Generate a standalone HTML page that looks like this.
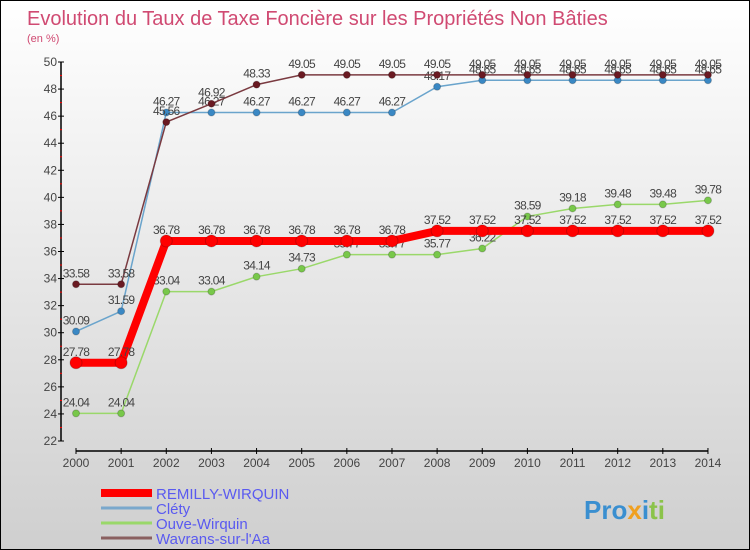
<!DOCTYPE html>
<html><head><meta charset="utf-8"><style>
body{margin:0}
#c{width:750px;height:550px;position:relative;box-sizing:border-box;border:1px solid #000;background:linear-gradient(#fff,#cfcfcf);font-family:"Liberation Sans",sans-serif;overflow:hidden}
svg text{font-family:"Liberation Sans",sans-serif}
</style></head><body>
<div id="c">
<svg id="s" width="750" height="550">
<text x="26" y="24" font-size="20" fill="#d04a72">Evolution du Taux de Taxe Foncière sur les Propriétés Non Bâties</text>
<text x="26" y="41" font-size="11" fill="#d04a72">(en %)</text>
<text x="583" y="518" font-size="26" font-weight="bold" fill="#3a8fd0">Pro<tspan fill="#f0a020">x</tspan><tspan fill="#3a8fd0">i</tspan><tspan fill="#8bc34a">ti</tspan></text>
</svg></div>
<script>
const years=["2000","2001","2002","2003","2004","2005","2006","2007","2008","2009","2010","2011","2012","2013","2014"];
const remilly=[27.78,27.78,36.78,36.78,36.78,36.78,36.78,36.78,37.52,37.52,37.52,37.52,37.52,37.52,37.52];
const clety=[30.09,31.59,46.27,46.27,46.27,46.27,46.27,46.27,48.17,48.65,48.65,48.65,48.65,48.65,48.65];
const ouve=[24.04,24.04,33.04,33.04,34.14,34.73,35.77,35.77,35.77,36.22,38.59,39.18,39.48,39.48,39.78];
const wavrans=[33.58,33.58,45.56,46.92,48.33,49.05,49.05,49.05,49.05,49.05,49.05,49.05,49.05,49.05,49.05];
const yTicks=[22,24,26,28,30,32,34,36,38,40,42,44,46,48,50];
const NS="http://www.w3.org/2000/svg",svg=document.getElementById('s');
const X=i=>75+i*45.14, Y=v=>440-(v-22)*379/28;
function el(t,a,p){const e=document.createElementNS(NS,t);for(const k in a)e.setAttribute(k,a[k]);(p||svg).appendChild(e);return e;}
let ax=el('line',{x1:60,y1:Y(50),x2:60,y2:Y(22),stroke:'#000','stroke-width':1.5});

yTicks.forEach(v=>{el('line',{x1:57,x2:63,y1:Y(v),y2:Y(v),stroke:'#000'});
if(v<50)el('line',{x1:59,x2:61,y1:Y(v+1),y2:Y(v+1),stroke:'#f00'});
const t=el('text',{x:56,y:Y(v)+4,'font-size':12,fill:'#444','text-anchor':'end'});t.textContent=v;
});
let xa=el('line',{x1:75,y1:450,x2:X(14),y2:450,stroke:'#000','stroke-width':1.5});

years.forEach((y,i)=>{el('line',{x1:X(i),x2:X(i),y1:447,y2:453,stroke:'#000'});
const t=el('text',{x:X(i),y:466,'font-size':12,fill:'#444','text-anchor':'middle'});t.textContent=y;
});
function series(d,col,w,r,name,dot){
const g=el('g',{});
el('polyline',{points:d.map((v,i)=>X(i)+','+Y(v)).join(' '),fill:'none',stroke:col,'stroke-width':w},g);
d.forEach((v,i)=>{const c=el('circle',{cx:X(i),cy:Y(v),r:r,fill:dot,stroke:'#0003'},g);

const t=el('text',{x:X(i),y:Y(v)-7,'font-size':12,fill:'#444','text-anchor':'middle','letter-spacing':'-0.7'},g);t.textContent=v.toFixed(2).replace(/0$/,'').replace(/\.$/,'');});}
series(ouve,'#9ad86a',1.5,3.5,'ouve-wirquin','#78c84a');
series(clety,'#6aa4cc',1.5,3.5,'clety','#3a88c4');
series(wavrans,'#7a3a40',1.5,3.5,'wavrans','#6a1a22');
series(remilly,'#f00',8,6,'remilly-wirquin','#f00');
const leg=[['REMILLY-WIRQUIN','#f00',8],['Cléty','#7aa8cc',3],['Ouve-Wirquin','#9ad86a',3],['Wavrans-sur-l\'Aa','#8a6060',3]];
leg.forEach((l,i)=>{const y=492+i*15;const g=el('g',{});

el('line',{x1:100,x2:151,y1:y,y2:y,stroke:l[1],'stroke-width':l[2]},g);
const t=el('text',{x:155,y:y+6,'font-size':15,fill:'#5a5af0'},g);t.textContent=l[0];});
</script></body></html>
